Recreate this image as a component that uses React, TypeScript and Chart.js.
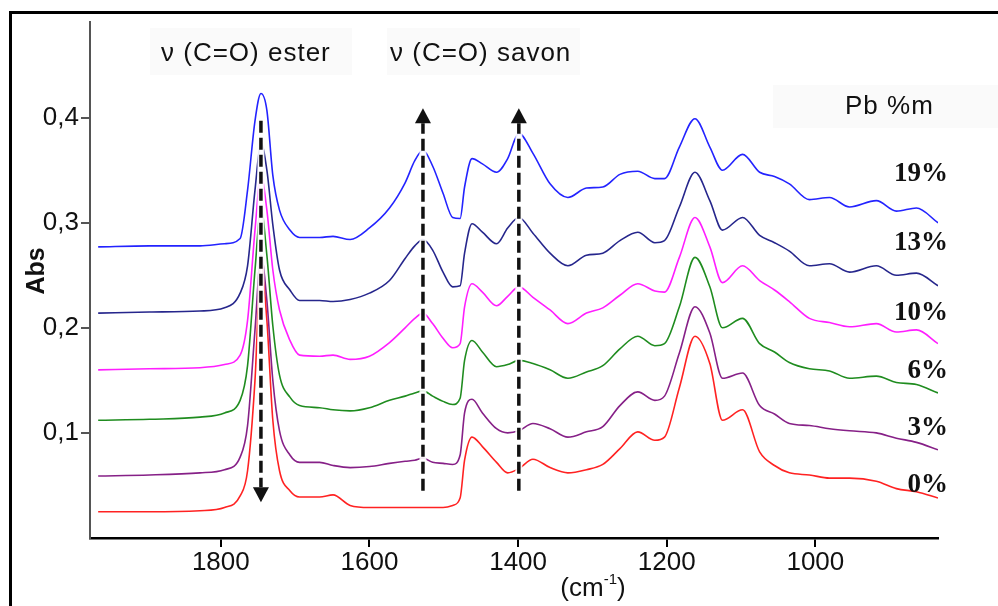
import React, { useEffect, useRef } from 'react';
import { Chart, registerables } from 'chart.js';
Chart.register(...registerables);

// Wavenumbers (cm-1), shared by every spectrum
const wavenumbers = [1965,1896,1828,1795,1774,1764,1754,1746,1738,1730,1721,1707,1694,1667,1649,1626,1600,1573,1552,1539,1528,1515,1501,1488,1478,1472,1462,1448,1429,1414,1399,1380,1357,1333,1308,1286,1263,1239,1216,1203,1183,1162,1142,1125,1098,1075,1055,1035,1008,981,954,918,891,864,835];

const abs19 = [0.277,0.278,0.278,0.280,0.285,0.331,0.397,0.423,0.407,0.345,0.312,0.293,0.286,0.286,0.287,0.284,0.295,0.314,0.338,0.359,0.369,0.354,0.328,0.305,0.304,0.334,0.361,0.356,0.348,0.361,0.385,0.366,0.337,0.324,0.333,0.334,0.346,0.349,0.342,0.342,0.372,0.399,0.372,0.350,0.365,0.348,0.344,0.337,0.322,0.324,0.315,0.321,0.311,0.314,0.300];
const abs13 = [0.214,0.215,0.216,0.219,0.233,0.259,0.331,0.376,0.350,0.298,0.255,0.236,0.226,0.226,0.225,0.227,0.233,0.245,0.266,0.278,0.284,0.274,0.253,0.239,0.240,0.271,0.299,0.291,0.280,0.295,0.305,0.290,0.271,0.259,0.269,0.271,0.283,0.291,0.281,0.283,0.315,0.348,0.321,0.293,0.305,0.288,0.281,0.273,0.259,0.261,0.253,0.259,0.250,0.252,0.240];
const abs10 = [0.160,0.161,0.162,0.165,0.174,0.207,0.293,0.345,0.312,0.255,0.217,0.188,0.174,0.173,0.174,0.170,0.173,0.186,0.200,0.209,0.214,0.204,0.190,0.181,0.185,0.220,0.242,0.234,0.221,0.230,0.239,0.229,0.217,0.204,0.214,0.219,0.231,0.242,0.235,0.234,0.267,0.305,0.277,0.243,0.259,0.245,0.236,0.225,0.209,0.205,0.201,0.204,0.196,0.198,0.185];
const abs6 = [0.112,0.113,0.115,0.119,0.131,0.164,0.255,0.314,0.269,0.202,0.155,0.134,0.126,0.124,0.122,0.121,0.124,0.131,0.135,0.138,0.140,0.135,0.130,0.127,0.133,0.169,0.188,0.177,0.163,0.165,0.169,0.166,0.160,0.152,0.158,0.164,0.180,0.192,0.183,0.185,0.220,0.267,0.239,0.200,0.209,0.185,0.177,0.167,0.161,0.159,0.152,0.154,0.148,0.146,0.138];
const abs3 = [0.059,0.060,0.062,0.065,0.077,0.107,0.198,0.269,0.226,0.150,0.102,0.079,0.072,0.072,0.069,0.067,0.068,0.071,0.073,0.074,0.076,0.072,0.071,0.070,0.079,0.119,0.132,0.119,0.104,0.100,0.102,0.109,0.104,0.096,0.101,0.106,0.126,0.139,0.131,0.135,0.176,0.220,0.195,0.152,0.157,0.126,0.118,0.109,0.107,0.104,0.102,0.100,0.095,0.091,0.084];
const abs0 = [0.025,0.025,0.026,0.029,0.040,0.064,0.150,0.262,0.207,0.112,0.064,0.045,0.039,0.039,0.041,0.031,0.029,0.029,0.029,0.029,0.029,0.029,0.029,0.031,0.038,0.074,0.096,0.087,0.072,0.062,0.066,0.075,0.067,0.062,0.065,0.070,0.085,0.101,0.093,0.096,0.143,0.192,0.166,0.112,0.122,0.082,0.069,0.062,0.060,0.057,0.057,0.054,0.047,0.044,0.038];

const seriesLabels = ['19%', '13%', '10%', '6%', '3%', '0%'];
const seriesValues = [abs19, abs13, abs10, abs6, abs3, abs0];
const seriesColors = ['#2323ff', '#26268c', '#ff1eff', '#1f8c1f', '#862087', '#ff2222'];

const xTicks = [1800, 1600, 1400, 1200, 1000];
const yTicks = [0.1, 0.2, 0.3, 0.4];
const yTickLabels = ['0,1', '0,2', '0,3', '0,4'];

// Dashed arrows: wavenumber, start absorbance, tip absorbance
const arrowWn = [1746, 1528, 1399];
const arrowFrom = [0.397, 0.045, 0.045];
const arrowTo = [0.034, 0.409, 0.409];

// Label y positions (pixels) for the % labels, right aligned
const pctLabelY = [174, 243, 313, 371, 428, 485];

const overlay = {
  id: 'overlay',
  beforeDraw(chart: any) {
    const ctx = chart.ctx;
    ctx.save();
    ctx.fillStyle = '#ffffff';
    ctx.fillRect(0, 0, chart.width, chart.height);
    ctx.fillStyle = '#fafafa';
    ctx.fillRect(150, 28, 202, 47);
    ctx.fillRect(387, 28, 193, 47);
    ctx.fillRect(773, 85, 225, 43);
    // outer frame
    ctx.strokeStyle = '#000';
    ctx.lineWidth = 3;
    ctx.beginPath();
    ctx.moveTo(10.5, 606);
    ctx.lineTo(10.5, 12.5);
    ctx.lineTo(998, 12.5);
    ctx.stroke();
    ctx.restore();
  },
  afterDatasetsDraw(chart: any) {
    const ctx = chart.ctx;
    const xs = chart.scales.x;
    const ys = chart.scales.y;
    ctx.save();
    arrowWn.forEach((wn, i) => {
      const x = xs.getPixelForValue(wn);
      const y1 = ys.getPixelForValue(arrowFrom[i]);
      const y2 = ys.getPixelForValue(arrowTo[i]);
      const dir = y2 > y1 ? 1 : -1;
      const headLen = 15;
      const yBase = y2 - dir * headLen;
      ctx.setLineDash([]);
      ctx.strokeStyle = 'rgba(255,255,255,0.9)';
      ctx.lineWidth = 7;
      ctx.beginPath();
      ctx.moveTo(x, y1);
      ctx.lineTo(x, yBase);
      ctx.stroke();
      ctx.strokeStyle = '#111';
      ctx.lineWidth = 3.5;
      ctx.setLineDash([12, 5]);
      ctx.beginPath();
      ctx.moveTo(x, y1);
      ctx.lineTo(x, yBase);
      ctx.stroke();
      ctx.setLineDash([]);
      ctx.fillStyle = '#111';
      ctx.beginPath();
      ctx.moveTo(x, y2);
      ctx.lineTo(x - 8, yBase);
      ctx.lineTo(x + 8, yBase);
      ctx.closePath();
      ctx.fill();
    });
    ctx.restore();
  },
  afterDraw(chart: any) {
    const ctx = chart.ctx;
    ctx.save();
    ctx.fillStyle = '#111';
    ctx.textBaseline = 'middle';
    ctx.textAlign = 'left';
    ctx.font = '26px "Liberation Sans", Arial, sans-serif';
    try { (ctx as any).letterSpacing = '1px'; } catch (e) {}
    ctx.fillText('\u03bd (C=O) ester', 161, 54);
    ctx.fillText('\u03bd (C=O) savon', 390, 54);
    ctx.fillText('Pb %m', 845, 107);
    try { (ctx as any).letterSpacing = '0px'; } catch (e) {}
    // percent labels
    ctx.textAlign = 'right';
    ctx.font = 'bold 27px "Liberation Serif", "Times New Roman", serif';
    seriesLabels.forEach((t, i) => ctx.fillText(t, 948, pctLabelY[i]));
    // x axis title with superscript
    ctx.textAlign = 'left';
    ctx.textBaseline = 'alphabetic';
    ctx.font = '26px "Liberation Sans", Arial, sans-serif';
    const a = '(cm';
    const wa = ctx.measureText(a).width;
    ctx.font = '15px "Liberation Sans", Arial, sans-serif';
    const sup = '-1';
    const ws = ctx.measureText(sup).width;
    ctx.font = '26px "Liberation Sans", Arial, sans-serif';
    const wc = ctx.measureText(')').width;
    const total = wa + ws + wc;
    const x0 = 593 - total / 2;
    const base = 596;
    ctx.fillText(a, x0, base);
    ctx.font = '15px "Liberation Sans", Arial, sans-serif';
    ctx.fillText(sup, x0 + wa, base - 12);
    ctx.font = '26px "Liberation Sans", Arial, sans-serif';
    ctx.fillText(')', x0 + wa + ws, base);
    // y axis title
    ctx.translate(37, 271);
    ctx.rotate(-Math.PI / 2);
    ctx.textAlign = 'center';
    ctx.textBaseline = 'middle';
    ctx.font = 'bold 25px "Liberation Sans", Arial, sans-serif';
    ctx.fillText('Abs', 0, 0);
    ctx.restore();
  },
};

export default function App() {
  const ref = useRef<HTMLCanvasElement | null>(null);
  useEffect(() => {
    if (!ref.current) return;
    const chart = new Chart(ref.current, {
      type: 'line',
      data: {
        datasets: seriesValues.map((vals, i) => ({
          label: seriesLabels[i],
          data: wavenumbers.map((w, j) => ({ x: w, y: vals[j] })),
          borderColor: seriesColors[i],
          borderWidth: 1.6,
          pointRadius: 0,
          fill: false,
          tension: 0.35,
          cubicInterpolationMode: 'monotone' as const,
        })),
      },
      options: {
        animation: false,
        responsive: false,
        maintainAspectRatio: false,
        layout: { padding: { left: 0, top: 22, right: 60, bottom: 0 } },
        plugins: { legend: { display: false }, tooltip: { enabled: false } },
        scales: {
          x: {
            type: 'linear',
            reverse: true,
            min: 835,
            max: 1976,
            afterBuildTicks: (s: any) => { s.ticks = xTicks.map((v) => ({ value: v })); },
            afterFit: (s: any) => { s.height = 68; },
            grid: { display: true, drawOnChartArea: false, drawTicks: true, tickLength: 9, color: '#000', lineWidth: 2 },
            border: { display: true, color: '#000', width: 2.5 },
            ticks: {
              autoSkip: false,
              maxRotation: 0,
              padding: 0,
              color: '#111',
              font: { family: '"Liberation Sans", Arial, sans-serif', size: 26 },
              callback: (v: any) => String(v),
            },
          },
          y: {
            type: 'linear',
            min: 0,
            max: 0.491,
            afterBuildTicks: (s: any) => { s.ticks = yTicks.map((v) => ({ value: v })); },
            afterFit: (s: any) => { s.width = 90; },
            grid: { display: true, drawOnChartArea: false, drawTicks: true, tickLength: 9, color: '#555', lineWidth: 2 },
            border: { display: true, color: '#555', width: 2 },
            ticks: {
              padding: 2,
              color: '#111',
              font: { family: '"Liberation Sans", Arial, sans-serif', size: 26 },
              callback: (v: any) => {
                const k = yTicks.findIndex((t) => Math.abs(t - v) < 1e-6);
                return k >= 0 ? yTickLabels[k] : '';
              },
            },
          },
        },
      },
      plugins: [overlay],
    });
    return () => chart.destroy();
  }, []);
  return (
    <div style={{ position: 'fixed', left: 0, top: 0, width: 998, height: 606, background: '#fff' }}>
      <canvas ref={ref} width={998} height={606} style={{ display: 'block' }} />
    </div>
  );
}
